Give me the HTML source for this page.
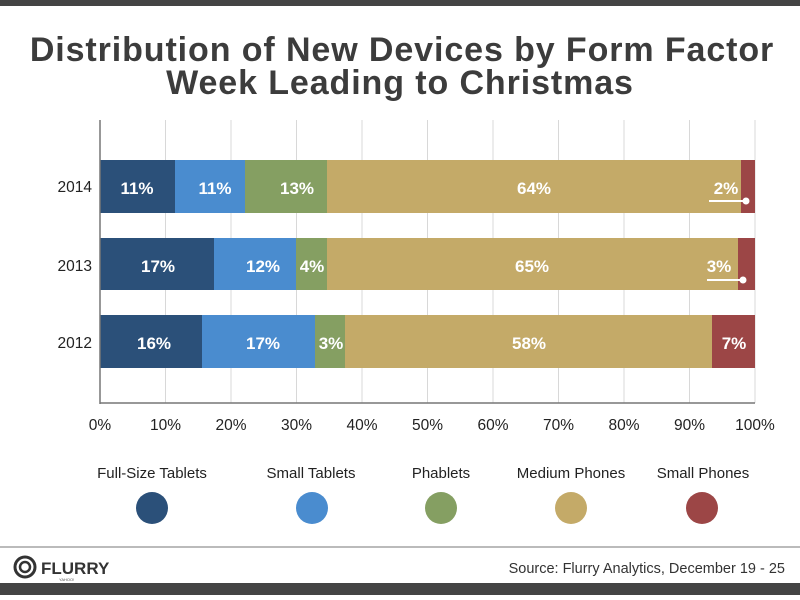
<!DOCTYPE html>
<html><head><meta charset="utf-8"><style>
body{margin:0;width:800px;height:595px;background:#fff;overflow:hidden;font-family:"Liberation Sans",sans-serif}
</style></head><body>
<svg width="800" height="595" xmlns="http://www.w3.org/2000/svg" font-family="Liberation Sans, sans-serif">
<rect x="0" y="0" width="800" height="6" fill="#444"/>
<text x="402" y="61" text-anchor="middle" font-size="34" font-weight="bold" fill="#3c3c3c" letter-spacing="0.9">Distribution of New Devices by Form Factor</text>
<text x="400" y="94" text-anchor="middle" font-size="34" font-weight="bold" fill="#3c3c3c" letter-spacing="0.9">Week Leading to Christmas</text>
<g stroke="#d8d8d8" stroke-width="1">
<line x1="165.5" y1="120" x2="165.5" y2="403"/><line x1="231" y1="120" x2="231" y2="403"/><line x1="296.5" y1="120" x2="296.5" y2="403"/><line x1="362" y1="120" x2="362" y2="403"/><line x1="427.5" y1="120" x2="427.5" y2="403"/><line x1="493" y1="120" x2="493" y2="403"/><line x1="558.5" y1="120" x2="558.5" y2="403"/><line x1="624" y1="120" x2="624" y2="403"/><line x1="689.5" y1="120" x2="689.5" y2="403"/><line x1="755" y1="120" x2="755" y2="403"/>
</g>
<g>
<rect x="100" y="160" width="75" height="53" fill="#2b5079"/><rect x="175" y="160" width="70" height="53" fill="#4a8ccf"/><rect x="245" y="160" width="82" height="53" fill="#859f62"/><rect x="327" y="160" width="414" height="53" fill="#c4aa68"/><rect x="741" y="160" width="14" height="53" fill="#9c4646"/>
<rect x="100" y="238" width="114" height="52" fill="#2b5079"/><rect x="214" y="238" width="82" height="52" fill="#4a8ccf"/><rect x="296" y="238" width="31" height="52" fill="#859f62"/><rect x="327" y="238" width="411" height="52" fill="#c4aa68"/><rect x="738" y="238" width="17" height="52" fill="#9c4646"/>
<rect x="100" y="315" width="102" height="53" fill="#2b5079"/><rect x="202" y="315" width="113" height="53" fill="#4a8ccf"/><rect x="315" y="315" width="30" height="53" fill="#859f62"/><rect x="345" y="315" width="367" height="53" fill="#c4aa68"/><rect x="712" y="315" width="43" height="53" fill="#9c4646"/>
</g>
<g fill="#fff" font-size="17" font-weight="bold" text-anchor="middle">
<text x="137" y="194">11%</text><text x="215" y="194">11%</text><text x="297" y="194">13%</text><text x="534" y="194">64%</text><text x="726" y="194">2%</text>
<text x="158" y="272">17%</text><text x="263" y="272">12%</text><text x="312" y="272">4%</text><text x="532" y="272">65%</text><text x="719" y="272">3%</text>
<text x="154" y="349">16%</text><text x="263" y="349">17%</text><text x="331" y="349">3%</text><text x="529" y="349">58%</text><text x="734" y="349">7%</text>
</g>
<g stroke="#fff" stroke-width="2" fill="#fff">
<line x1="709" y1="201" x2="745" y2="201"/><circle cx="746" cy="201" r="2.5"/>
<line x1="707" y1="280" x2="743" y2="280"/><circle cx="743" cy="280" r="2.5"/>
</g>
<line x1="100" y1="120" x2="100" y2="404" stroke="#777" stroke-width="1.5"/>
<line x1="100" y1="403" x2="755" y2="403" stroke="#777" stroke-width="1.5"/>
<g font-size="15.5" fill="#222" text-anchor="end">
<text x="92" y="192">2014</text><text x="92" y="271">2013</text><text x="92" y="348">2012</text>
</g>
<g font-size="15.5" fill="#222" text-anchor="middle">
<text x="100" y="430">0%</text><text x="165.5" y="430">10%</text><text x="231" y="430">20%</text><text x="296.5" y="430">30%</text><text x="362" y="430">40%</text><text x="427.5" y="430">50%</text><text x="493" y="430">60%</text><text x="558.5" y="430">70%</text><text x="624" y="430">80%</text><text x="689.5" y="430">90%</text><text x="755" y="430">100%</text>
</g>
<g font-size="15" fill="#222" text-anchor="middle">
<text x="152" y="478">Full-Size Tablets</text><text x="311" y="478">Small Tablets</text><text x="441" y="478">Phablets</text><text x="571" y="478">Medium Phones</text><text x="703" y="478">Small Phones</text>
</g>
<circle cx="152" cy="508" r="16" fill="#2b5079"/><circle cx="312" cy="508" r="16" fill="#4a8ccf"/><circle cx="441" cy="508" r="16" fill="#859f62"/><circle cx="571" cy="508" r="16" fill="#c4aa68"/><circle cx="702" cy="508" r="16" fill="#9c4646"/>
<line x1="0" y1="547" x2="800" y2="547" stroke="#777" stroke-width="1"/>
<circle cx="25" cy="567" r="10" fill="none" stroke="#333" stroke-width="3"/><circle cx="25" cy="567" r="5" fill="none" stroke="#333" stroke-width="2.5"/>
<text x="41" y="574" font-size="17" font-weight="bold" fill="#333">FLURRY</text>
<text x="59" y="581" font-size="4" fill="#555">YAHOO!</text>
<text x="785" y="573" text-anchor="end" font-size="14.5" fill="#333">Source: Flurry Analytics, December 19 - 25</text>
<rect x="0" y="583" width="800" height="12" fill="#444"/>
</svg>
</body></html>
